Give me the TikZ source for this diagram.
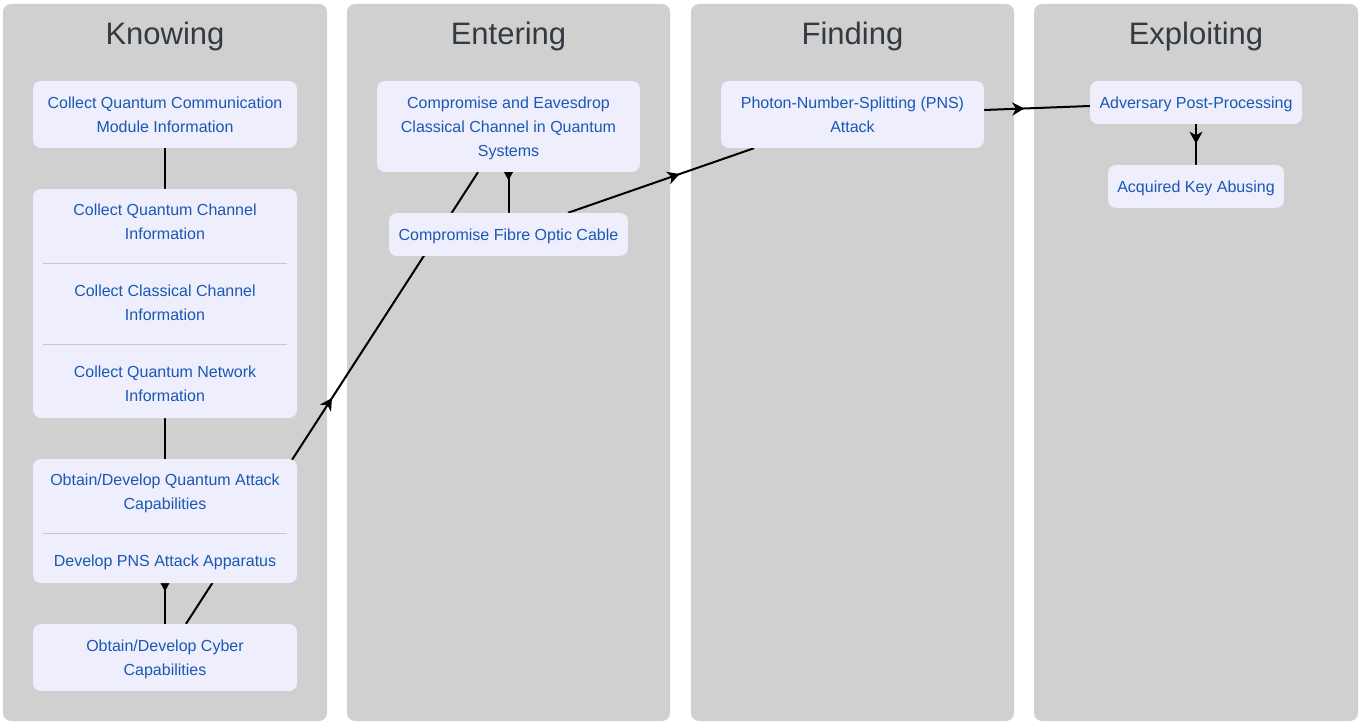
\documentclass[tikz,border=0pt]{standalone}
\usepackage{fontspec}
\setmainfont{Liberation Sans}
\usetikzlibrary{arrows.meta,calc,decorations.markings}
\definecolor{lanefill}{RGB}{208,208,208}
\definecolor{boxfill}{RGB}{238,238,252}
\definecolor{boxtext}{RGB}{26,88,180}
\definecolor{titletext}{RGB}{51,58,66}
\definecolor{sepline}{RGB}{196,196,212}
\pgfdeclarelayer{lanes}
\pgfdeclarelayer{edges}
\pgfsetlayers{lanes,edges,main}
\tikzset{
  lanebox/.style={fill=lanefill, rounded corners=8pt, draw=none},
  lanetitle/.style={text=titletext, font=\fontsize{31}{36}\selectfont, inner sep=0pt, text height=22.2pt, text depth=0pt},
  stepbox/.style={fill=boxfill, rounded corners=8pt, draw=none, inner sep=0pt, text=boxtext, align=center, font=\fontsize{16}{24}\selectfont, text height=14.6pt, text depth=3pt},
  boxtxt/.style={text=boxtext, align=center, inner sep=0pt, font=\fontsize{16}{24}\selectfont, text height=14.6pt, text depth=3pt},
  twolines/.style={text height=38.6pt},
  threelines/.style={text height=62.6pt},
  sepstyle/.style={draw=sepline, line width=0.8pt},
  conn/.style={draw=black, line width=2pt},
  midarrow/.style={postaction={decorate}, decoration={markings, mark=at position #1 with {\arrow{Stealth[length=12pt,width=13pt,inset=3.5pt]}}}},
}
\begin{document}
\begin{tikzpicture}[x=1pt,y=-1pt]
\useasboundingbox (0,0) rectangle (1362,727);
\begin{pgfonlayer}{lanes}
  \fill[white] (0,0) rectangle (1362,727);
  \path[lanebox] (3,4) rectangle (327,721);
  \path[lanebox] (347,4) rectangle (670,721);
  \path[lanebox] (691,4) rectangle (1014,721);
  \path[lanebox] (1034,4) rectangle (1358,721);
\end{pgfonlayer}
\node[lanetitle] (tknow) at (165,33) {Knowing};
\node[lanetitle] (tenter) at (508.5,33) {Entering};
\node[lanetitle] (tfind) at (852.5,33) {Finding};
\node[lanetitle] (texpl) at (1196,33) {Exploiting};

% Knowing
\node[stepbox, twolines, minimum width=264pt, minimum height=67pt] (b1) at (165,114.5) {Collect Quantum Communication\\Module Information};
\node[stepbox, minimum width=264pt, minimum height=229pt] (g1) at (165,303.5) {};
\node[boxtxt, twolines] (g1a) at (165,222) {Collect Quantum Channel\\Information};
\node[boxtxt, twolines] (g1b) at (165,303) {Collect Classical Channel\\Information};
\node[boxtxt, twolines] (g1c) at (165,384) {Collect Quantum Network\\Information};
\draw[sepstyle] (43,263.5) -- (287,263.5);
\draw[sepstyle] (43,344.5) -- (287,344.5);
\node[stepbox, minimum width=264pt, minimum height=124pt] (g2) at (165,521) {};
\node[boxtxt, twolines] (g2a) at (165,492) {Obtain/Develop Quantum Attack\\Capabilities};
\node[boxtxt] (g2b) at (165,561) {Develop PNS Attack Apparatus};
\draw[sepstyle] (43,533.5) -- (287,533.5);
\node[stepbox, twolines, minimum width=264pt, minimum height=67pt] (cyber) at (165,657.5) {Obtain/Develop Cyber\\Capabilities};

% Entering
\node[stepbox, threelines, minimum width=263pt, minimum height=91pt] (e1) at (508.5,126.5) {Compromise and Eavesdrop\\Classical Channel in Quantum\\Systems};
\node[stepbox, minimum width=239pt, minimum height=43pt] (e2) at (508.5,234.5) {Compromise Fibre Optic Cable};

% Finding
\node[stepbox, twolines, minimum width=263pt, minimum height=67pt] (f1) at (852.5,114.5) {Photon-Number-Splitting (PNS)\\Attack};

% Exploiting
\node[stepbox, minimum width=212pt, minimum height=43pt] (x1) at (1196,102.5) {Adversary Post-Processing};
\node[stepbox, minimum width=176pt, minimum height=43pt] (x2) at (1196,186.5) {Acquired Key Abusing};

\begin{pgfonlayer}{edges}
  \draw[conn] (b1.south) -- (g1.north);
  \draw[conn] (g1.south) -- (g2.north);
  \draw[conn, midarrow=0.2] (g2.south) -- (cyber.north);
  \draw[conn, midarrow=0.5] ($(cyber.north)+(21,0)$) -- ($(e1.south)+(-30.5,0)$);
  \draw[conn, midarrow=0.2] (e1.south) -- (e2.north);
  \draw[conn, midarrow=0.6] ($(e2.north)+(59.5,0)$) -- ($(f1.south)+(-98.5,0)$);
  \draw[conn, midarrow=0.38] ($(f1.east)+(0,-4.5)$) -- ($(x1.west)+(0,3.5)$);
  \draw[conn, midarrow=0.48] (x1.south) -- (x2.north);
\end{pgfonlayer}
\end{tikzpicture}
\end{document}
